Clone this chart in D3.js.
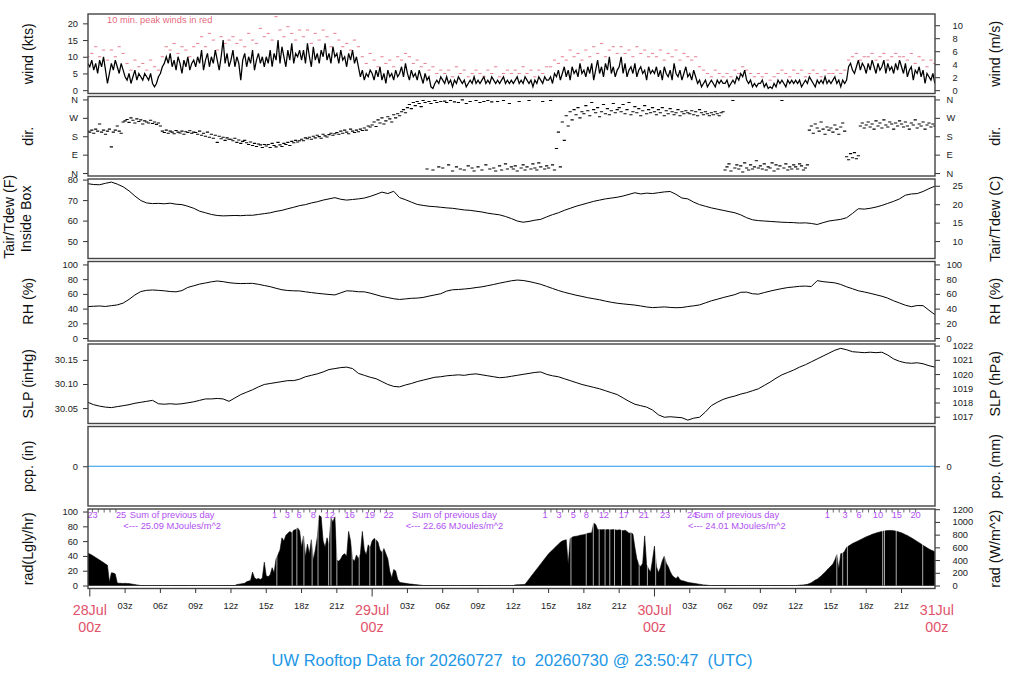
<!DOCTYPE html>
<html>
<head>
<meta charset="utf-8">
<script src="https://cdn.jsdelivr.net/npm/d3@7"></script>
<style>
  body { margin: 0; background: #fff; }
  text { font-family: "Liberation Sans", Arial, Helvetica, sans-serif; }
</style>
</head>
<body>
<svg id="chart" width="1024" height="700"></svg>
<script>
// ---- data ----
// 10-minute samples starting 27Jul 23:50z (433 values)
var windKts = [8,
  7,9,6,8,5,9,7,10,6,2,5,8,6,9,7,5,8,6,
  4,3,5,2,4,6,3,5,4,3,5,4,3,5,2,1,2,4,
  5,7,8,10,8,11,7,9,6,10,8,5,9,7,10,6,8,9,
  7,10,8,12,6,9,11,7,10,8,12,9,6,10,15,8,11,7,
  9,12,7,10,8,3,9,11,7,10,8,12,6,9,11,8,10,7,
  10,8,12,7,11,9,15,8,13,10,7,12,9,14,8,11,10,12,
  9,12,8,14,10,7,13,9,11,8,12,10,14,9,11,8,13,10,
  11,8,12,9,10,7,11,9,12,8,10,7,4,6,3,5,4,6,
  5,3,6,4,7,3,5,2,6,4,5,3,6,4,5,7,4,8,
  5,3,6,4,5,3,6,4,2,5,3,4,1,0.5,2,3,2,4,
  3,2,4,2,3,1,3,2,4,3,2,3,1,2,3,2,4,2,
  3,2,3,4,2,3,2,4,3,2,3,2,3,4,2,3,2,3,
  2,3,4,2,3,2,4,3,2,3,1,3,2,4,3,2,4,3,
  3,4,2,5,4,6,3,5,7,4,6,3,7,5,6,4,8,5,
  6,4,7,5,8,3,6,9,5,7,4,8,6,10,5,7,4,6,
  7,10,5,8,4,6,7,5,8,4,6,7,5,6,3,7,5,6,
  5,7,4,6,3,7,5,4,6,3,8,5,4,6,3,5,7,4,
  5,3,6,4,2,3,1,2,3,1,2,3,2,1,3,2,3,2,
  2,3,1,2,3,2,4,3,5,4,6,3,2,3,1,2,1,2,
  2,3,1,2,0.5,1,0.5,2,1,3,2,3,2,1,3,2,3,2,
  3,2,3,1,2,3,2,4,3,2,1,3,2,3,2,4,2,3,
  2,3,4,2,3,1,3,2,3,7,8,6,5,7,9,6,8,7,
  5,8,6,9,7,5,8,6,7,9,5,8,6,7,5,8,6,9,
  7,5,8,4,6,7,3,6,5,7,4,6,2,5,4,3,5,2]

// 20-minute peak winds (217 values)
var peakKts = [10,
  11,13,10,12,9,12,10,13,11,
  8,6,9,7,8,6,9,7,6,
  10,13,12,14,11,13,12,10,13,
  14,16,13,17,15,12,16,14,15,
  16,14,15,13,17,15,14,18.5,16,
  17,15,22,18,16,19,17,15,18,
  16,18,14,17,15,18,16,13,17,
  15,13,14,12,15,13,10,8,11,
  9,7,10,8,9,7,10,9,11,
  10,8,9,7,8,6,7,5,6,
  5,6,4,7,5,6,4,5,6,
  5,4,6,5,7,4,5,6,5,
  6,5,7,5,6,4,6,5,7,
  7,9,8,10,9,12,10,11,9,
  12,10,13,11,14,10,12,13,11,
  13,11,12,10,13,11,12,10,11,
  10,12,9,11,10,12,9,11,10,
  9,10,7,6,5,4,6,5,4,
  5,4,6,5,7,6,5,4,5,
  4,5,3,4,5,6,5,4,6,
  5,6,4,5,6,5,4,6,5,
  5,6,5,6,9,10,11,9,10,
  10,11,9,10,11,9,10,11,10,
  10,9,11,8,10,9,7,9,8]

// wind direction, degrees, 10-minute samples (433 values)
var dirDeg = [205,
  200,210,195,215,205,240,200,210,190,205,215,128,200,210,230,205,195,250,
  255,262,248,270,258,245,265,252,260,240,255,250,245,258,242,250,238,245,
  230,205,198,210,195,205,200,192,208,200,196,205,190,202,198,207,195,200,
  198,190,205,185,195,180,200,175,190,170,185,150,180,168,175,160,172,165,
  165,158,170,150,162,145,155,160,148,140,152,135,145,130,142,138,125,140,
  132,140,125,145,135,128,150,138,130,145,140,150,135,155,148,160,152,158,
  165,158,172,168,175,165,180,172,185,178,170,190,182,176,188,195,185,192,
  198,190,205,195,210,200,192,215,205,198,210,202,215,208,220,210,230,225,
  235,250,228,260,245,270,240,255,275,265,250,285,270,290,280,300,310,295,
  320,335,315,345,330,350,340,325,355,345,20,350,340,15,355,345,30,350,
  25,352,345,40,355,10,348,30,345,20,358,15,340,35,350,25,10,355,
  30,345,15,350,40,355,20,348,25,10,350,35,15,355,45,20,340,30,
  20,35,10,350,25,40,15,30,355,20,45,25,15,50,30,350,20,35,
  25,355,40,15,120,200,30,250,160,280,230,300,260,310,285,320,270,300,
  290,330,305,280,345,310,295,320,275,300,335,290,315,285,305,340,295,310,
  320,300,335,290,310,345,285,300,325,295,315,280,305,330,290,310,295,320,
  300,285,310,295,320,280,305,290,315,300,285,295,310,280,300,290,305,295,
  290,305,285,300,280,310,295,285,300,290,280,295,285,300,290,280,295,300,
  15,30,45,10,355,25,40,20,35,5,50,25,15,40,20,30,60,25,
  35,20,45,15,30,25,50,10,40,20,35,355,25,45,15,30,20,40,
  30,20,45,35,15,25,40,210,230,195,240,220,205,250,215,190,225,210,
  220,200,235,215,190,225,245,205,80,65,95,75,100,70,85,230,245,220,
  235,250,225,240,215,255,230,245,220,260,235,225,250,240,215,245,230,255,
  240,225,250,230,215,245,235,260,220,240,230,250,215,235,245,225,240,230]

// 30-minute samples starting 27Jul 23:50z (145 values)
var tempF = [78.0,77.6,77.5,78.2,78.8,77.8,76.5,74.5,72.0,69.8,
  68.6,68.3,68.4,68.2,68.5,68.0,67.8,67.0,66.0,64.6,
  63.8,63.0,62.5,62.3,62.4,62.5,62.4,62.6,62.6,63.0,
  63.4,63.8,64.5,65.0,65.8,66.5,67.3,67.8,68.6,69.2,
  70.0,70.6,71.2,70.4,70.0,70.3,70.6,71.0,71.8,72.8,
  73.9,73.2,74.3,71.2,70.2,69.0,67.9,67.4,67.0,66.8,
  66.5,66.2,66.0,65.6,65.2,65.0,64.6,64.2,63.6,63.2,
  62.8,62.0,61.0,59.8,59.2,59.6,60.2,60.6,61.8,62.9,
  63.8,65.0,66.0,67.0,67.8,68.6,69.4,70.0,70.6,71.0,
  71.4,72.0,72.8,73.6,73.0,73.4,73.2,73.6,74.0,74.2,
  72.8,71.0,70.6,69.0,67.8,67.0,66.2,65.6,65.0,64.4,
  63.8,62.8,61.4,60.4,60.0,59.8,59.6,59.4,59.2,59.1,
  59.0,58.8,58.9,58.6,58.1,59.0,59.8,60.2,60.6,61.4,
  63.5,65.8,65.6,66.0,66.6,67.4,68.4,69.4,70.6,72.4,
  73.0,73.2,74.2,75.6,76.8]

var rhPct = [42.8,43.2,43.6,42.9,44.0,45.0,47.5,52.5,58.5,63.2,
  64.8,65.3,64.8,64.2,63.2,62.8,64.5,68.8,71.0,73.3,
  74.8,76.4,77.5,76.6,75.2,74.4,74.0,74.2,74.3,73.0,
  71.4,69.8,67.6,65.6,64.6,64.2,64.0,62.8,61.8,60.8,
  60.0,59.2,58.6,61.4,64.2,63.8,62.9,62.8,61.0,58.8,
  56.5,55.0,53.4,52.4,53.2,54.0,54.3,55.2,57.0,58.6,
  60.2,63.8,65.6,66.0,66.6,67.4,68.6,69.6,71.2,72.8,
  74.6,76.2,77.8,78.8,78.2,76.8,75.0,73.0,70.2,67.4,
  64.6,62.2,60.2,58.2,56.6,54.8,53.4,52.0,50.2,48.6,
  47.3,46.4,45.6,44.8,43.6,42.2,41.4,41.8,42.3,41.6,
  41.2,41.5,42.8,43.8,45.0,47.8,50.6,52.7,55.0,57.0,
  59.0,62.2,62.4,60.2,59.6,61.8,63.8,65.6,67.2,68.6,
  69.4,70.3,70.6,70.0,78.0,76.6,75.8,75.0,72.8,69.6,
  67.0,64.2,62.6,60.8,58.8,56.8,54.2,50.6,47.6,44.6,
  42.6,44.2,44.0,37.8,31.8]

var slpInHg = [30.062,30.057,30.054,30.052,30.051,30.053,30.055,30.057,30.060,30.062,
  30.064,30.066,30.059,30.058,30.059,30.058,30.059,30.061,30.063,30.066,
  30.069,30.069,30.070,30.069,30.064,30.071,30.078,30.083,30.088,30.094,
  30.099,30.101,30.103,30.105,30.107,30.107,30.110,30.115,30.118,30.121,
  30.125,30.130,30.132,30.134,30.135,30.132,30.122,30.118,30.114,30.111,
  30.105,30.099,30.095,30.094,30.098,30.101,30.105,30.108,30.111,30.114,
  30.115,30.117,30.118,30.119,30.118,30.120,30.121,30.119,30.117,30.115,
  30.113,30.114,30.116,30.118,30.120,30.122,30.124,30.125,30.120,30.117,
  30.115,30.111,30.107,30.103,30.099,30.096,30.093,30.090,30.086,30.082,
  30.078,30.071,30.064,30.058,30.055,30.052,30.046,30.036,30.031,30.032,
  30.031,30.030,30.025,30.029,30.031,30.042,30.055,30.062,30.068,30.072,
  30.075,30.079,30.082,30.086,30.090,30.097,30.104,30.112,30.119,30.124,
  30.129,30.135,30.140,30.146,30.152,30.158,30.164,30.170,30.174,30.171,
  30.167,30.166,30.165,30.166,30.165,30.166,30.160,30.152,30.147,30.144,
  30.143,30.144,30.142,30.138,30.135]

var pcpIn = [0, 0]

// solar radiation W/m^2, 10-minute samples (433 values)
var radWm2 = [512,495,480,460,440,420,400,380,360,340,320,50,200,195,180,40,35,35,30,35,30,30,25,20,15,10,5,
  0,0,0,0,0,0,0,0,0,0,0,0,0,0,0,0,0,0,0,0,0,0,0,0,0,0,0,0,0,0,0,0,0,0,0,0,0,0,0,0,0,0,0,0,0,0,0,0,0,
  15,20,25,30,35,60,70,80,210,120,
  100,110,95,120,366,150,140,170,280,200,
  420,486,560,750,700,790,820,850,830,870,
  880,905,860,600,780,450,650,500,720,400,
  560,750,1100,1080,700,600,750,640,1060,1000,
  1080,400,380,420,480,500,460,850,700,420,
  380,480,420,500,850,560,480,640,600,700,
  740,720,680,560,520,580,500,420,225,120,
  250,230,100,50,45,40,35,30,25,22,
  18,15,12,8,5,
  0,0,0,0,0,0,0,0,0,0,0,0,0,0,0,0,0,0,0,0,0,0,0,0,0,0,0,0,0,0,0,0,0,0,0,0,0,0,0,0,0,0,0,0,0,0,0,
  10,12,12,14,15,20,60,100,140,180,
  220,260,300,340,380,420,460,500,530,560,
  590,620,650,680,700,710,720,330,740,760,
  770,775,780,790,795,800,810,820,825,830,
  980,960,880,880,875,880,875,880,878,875,
  880,875,870,875,870,860,870,850,820,830,
  810,600,420,330,300,350,780,330,260,210,
  400,620,300,200,280,390,460,350,300,220,
  160,130,110,140,90,75,70,60,50,45,
  40,35,30,25,20,15,10,8,5,
  0,0,0,0,0,0,0,0,0,0,0,0,0,0,0,0,0,0,0,0,0,0,0,0,0,0,0,0,0,0,0,0,0,0,0,0,0,0,0,0,0,0,0,0,0,
  2,5,8,10,14,18,30,45,65,85,
  100,125,150,180,210,245,275,305,340,400,
  486,260,500,510,540,600,620,640,660,675,
  690,705,720,735,750,765,778,790,805,815,
  825,835,843,850,856,860,864,866,866,862,
  856,848,838,828,815,800,785,768,750,732,
  712,692,672,652,632,612,592,574,558,545,
  530]

// hours (from 28Jul 00z) where the radiation trace has white gaps
var radGapHr = [15.9,17.2,17.6,18.2,18.9,19.4,20.3,20.5,21.0,22.3,22.9,23.8,24.3,24.9,
  40.9,42.2,42.8,43.3,43.8,44.2,44.6,45.2,46.0,46.7,47.4,48.1,48.9,
  63.5,64.0,64.4,67.4,67.55,68.55,70.8]

// running daily radiation sums (MJ/m^2) printed along the top of the rad panel
var sumLabelHr = [0.22,2.66, 15.7,16.8,17.8,19.0,20.4,22.1,23.8,25.4,
  38.7,39.9,41.1,42.2,43.7,45.4,47.1,48.9,51.2, 62.7,64.2,65.4,67.0,68.6,70.2]
var sumLabelText = ["23","25","1","3","6","8","12","16","19","22",
  "1","3","5","8","12","17","21","23","24","1","3","6","10","15","20"]
var daySumHr = [7, 31, 55]
var daySumMJ = ["25.09", "22.66", "24.01"]

// ---- chart ----
var svg = d3.select("#chart")
var MIN = 60000
var gridStart = Date.UTC(2026, 6, 27, 23, 50)
var day0 = Date.UTC(2026, 6, 28)
var x = d3.scaleUtc()
  .domain([Date.UTC(2026, 6, 27, 23, 50, 47), Date.UTC(2026, 6, 30, 23, 50, 47)])
  .range([88, 935])
var left = 88, right = 935
var panelH = 79.5
var tickFont = 9.3, titleFont = 14.3
var red = "#DF536B", blue = "#2297E6", purple = "#b050f2"

function tStep(step) {
  return function (d, i) { return x(gridStart + i * step * MIN) }
}

function makePanel(k, domain) {
  var top = 14 + k * 82.5
  var bottom = top + panelH
  var y = d3.scaleLinear().domain(domain).range([bottom, top])
  var g = svg.append("g")
  g.append("clipPath").attr("id", "clip" + k)
    .append("rect").attr("x", left).attr("y", top).attr("width", right - left).attr("height", panelH)
  var plot = g.append("g").attr("clip-path", "url(#clip" + k + ")")
  return { top: top, bottom: bottom, y: y, g: g, plot: plot }
}

function frame(p) {
  p.g.append("rect")
    .attr("x", left).attr("y", p.top).attr("width", right - left).attr("height", panelH)
    .attr("fill", "none").attr("stroke", "#444").attr("stroke-width", 1.4)
}

function styleAxis(a) {
  a.select(".domain").remove()
  a.attr("font-size", tickFont).attr("font-family", null).attr("color", "#333")
  a.selectAll("text").attr("fill", "#222")
}

function leftAxis(p, values, labels) {
  p.g.append("g").attr("transform", "translate(" + left + ",0)")
    .call(d3.axisLeft(p.y).tickValues(values).tickSize(5).tickPadding(5)
      .tickFormat(function (d, i) { return labels ? labels[i] : d }))
    .call(styleAxis)
}

function rightAxis(p, values, labels, pad) {
  p.g.append("g").attr("transform", "translate(" + right + ",0)")
    .call(d3.axisRight(p.y).tickValues(values).tickSize(5).tickPadding(pad)
      .tickFormat(function (d, i) { return labels[i] }))
    .call(styleAxis)
}

function yTitle(xc, yc, txt) {
  svg.append("text")
    .attr("transform", "translate(" + xc + "," + yc + ") rotate(-90)")
    .attr("text-anchor", "middle").attr("dy", "0.35em")
    .attr("font-size", titleFont).attr("fill", "#111")
    .text(txt)
}

function linePath(p, data, step, w) {
  p.plot.append("path").datum(data)
    .attr("d", d3.line().x(tStep(step)).y(function (d) { return p.y(d) }))
    .attr("fill", "none").attr("stroke", "#000").attr("stroke-width", w || 1)
}

// wind
var pw = makePanel(0, [-1, 22.8])
pw.plot.selectAll("line.pk").data(peakKts).join("line").attr("class", "pk")
  .attr("x1", function (d, i) { return tStep(20)(d, i) - 1.6 })
  .attr("x2", function (d, i) { return tStep(20)(d, i) + 1.6 })
  .attr("y1", function (d) { return pw.y(d) }).attr("y2", function (d) { return pw.y(d) })
  .attr("stroke", red).attr("stroke-opacity", 0.75).attr("stroke-width", 1)
linePath(pw, windKts, 10, 1.25)
pw.g.append("text").attr("x", 107).attr("y", 23).attr("font-size", tickFont)
  .attr("fill", red).attr("fill-opacity", 0.9).text("10 min. peak winds in red")
var msTicks = [0, 2, 4, 6, 8, 10]
leftAxis(pw, [0, 5, 10, 15, 20])
rightAxis(pw, msTicks.map(function (m) { return m * 1.94384 }), msTicks, 12.5)
frame(pw)

// direction
var pd = makePanel(1, [-14.4, 374.4])
pd.plot.selectAll("line.dir").data(dirDeg).join("line").attr("class", "dir")
  .attr("x1", function (d, i) { return tStep(10)(d, i) - 1.6 })
  .attr("x2", function (d, i) { return tStep(10)(d, i) + 1.6 })
  .attr("y1", function (d) { return pd.y(d) }).attr("y2", function (d) { return pd.y(d) })
  .attr("stroke", "#000").attr("stroke-width", 1.1)
var compass = ["N", "E", "S", "W", "N"]
leftAxis(pd, [0, 90, 180, 270, 360], compass)
rightAxis(pd, [0, 90, 180, 270, 360], compass, 6.5)
frame(pd)

// temperature
var pt = makePanel(2, [41.5, 80.3])
linePath(pt, tempF, 30)
var cTicks = [10, 15, 20, 25]
leftAxis(pt, [50, 60, 70, 80])
rightAxis(pt, cTicks.map(function (c) { return c * 1.8 + 32 }), cTicks, 12.5)
frame(pt)

// relative humidity
var pr = makePanel(3, [-4, 104])
linePath(pr, rhPct, 30)
var rhTicks = [0, 20, 40, 60, 80, 100]
leftAxis(pr, rhTicks)
rightAxis(pr, rhTicks, rhTicks, 6.5)
frame(pr)

// sea level pressure
var ps = makePanel(4, [30.018, 30.183])
linePath(ps, slpInHg, 30)
var hpaTicks = [1017, 1018, 1019, 1020, 1021, 1022]
leftAxis(ps, [30.05, 30.10, 30.15], ["30.05", "30.10", "30.15"])
rightAxis(ps, hpaTicks.map(function (h) { return h * 0.02953 }), hpaTicks, 12.5)
frame(ps)

// precipitation
var pp = makePanel(5, [-1, 1])
pp.plot.append("line").attr("x1", left).attr("x2", right)
  .attr("y1", pp.y(pcpIn[0])).attr("y2", pp.y(pcpIn[1]))
  .attr("stroke", blue).attr("stroke-width", 1)
leftAxis(pp, [0])
rightAxis(pp, [0], [0], 6.5)
frame(pp)

// radiation
var pa = makePanel(6, [-47, 1203])
pa.plot.append("path").datum(radWm2)
  .attr("d", d3.area().x(tStep(10)).y0(pa.y(0)).y1(function (d) { return pa.y(d) }))
  .attr("fill", "#000").attr("stroke", "#000").attr("stroke-width", 0.6)
pa.plot.selectAll("line.gap").data(radGapHr).join("line").attr("class", "gap")
  .attr("x1", function (d) { return x(day0 + d * 3600000) })
  .attr("x2", function (d) { return x(day0 + d * 3600000) })
  .attr("y1", pa.y(0)).attr("y2", pa.y(1180))
  .attr("stroke", "#fff").attr("stroke-width", 0.8).attr("stroke-opacity", 0.85)

// small tick marks along the top, every half hour across each run of labels
var runs = []
sumLabelHr.forEach(function (h, i) {
  if (i === 0 || h - sumLabelHr[i - 1] > 5) runs.push([h, h])
  else runs[runs.length - 1][1] = h
})
var topTicks = []
runs.forEach(function (r) { topTicks = topTicks.concat(d3.range(r[0], r[1] + 0.01, 0.5)) })
pa.g.selectAll("line.tt").data(topTicks).join("line").attr("class", "tt")
  .attr("x1", function (d) { return x(day0 + d * 3600000) })
  .attr("x2", function (d) { return x(day0 + d * 3600000) })
  .attr("y1", pa.top).attr("y2", pa.top + 3.5)
  .attr("stroke", "#444").attr("stroke-width", 0.8)
pa.g.selectAll("text.sum").data(sumLabelHr).join("text").attr("class", "sum")
  .attr("x", function (d) { return x(day0 + d * 3600000) }).attr("y", 518)
  .attr("text-anchor", "middle").attr("font-size", tickFont).attr("fill", purple)
  .text(function (d, i) { return sumLabelText[i] })
daySumHr.forEach(function (h, i) {
  var cx = x(day0 + h * 3600000)
  pa.g.append("text").attr("x", cx).attr("y", 518).attr("text-anchor", "middle")
    .attr("font-size", tickFont).attr("fill", purple).text("Sum of previous day")
  pa.g.append("text").attr("x", cx).attr("y", 529).attr("text-anchor", "middle")
    .attr("font-size", tickFont).attr("fill", purple)
    .text("<--- " + daySumMJ[i] + " MJoules/m^2")
})
var lyTicks = [0, 20, 40, 60, 80, 100]
var wTicks = [0, 200, 400, 600, 800, 1000, 1200]
leftAxis(pa, lyTicks.map(function (l) { return l * 11.63 }), lyTicks)
rightAxis(pa, wTicks, wTicks, 12.5)
frame(pa)

// time axis
var xTicks = d3.utcHour.every(3).range(new Date(day0), new Date(Date.UTC(2026, 6, 31, 1)))
var xa = svg.append("g")
xTicks.forEach(function (t) {
  var px = x(t)
  var isDay = t.getUTCHours() === 0
  if (px <= right + 1) {
    xa.append("line").attr("x1", px).attr("x2", px)
      .attr("y1", pa.bottom).attr("y2", pa.bottom + (isDay ? 8 : 4.5))
      .attr("stroke", "#333").attr("stroke-width", 1)
  }
  if (isDay) {
    xa.append("text").attr("x", px).attr("y", 615).attr("text-anchor", "middle")
      .attr("font-size", titleFont).attr("fill", red).text(d3.utcFormat("%d%b")(t))
    xa.append("text").attr("x", px).attr("y", 632).attr("text-anchor", "middle")
      .attr("font-size", titleFont).attr("fill", red).text("00z")
  } else {
    xa.append("text").attr("x", px).attr("y", 609).attr("text-anchor", "middle")
      .attr("font-size", tickFont).attr("fill", "#222").text(d3.utcFormat("%Hz")(t))
  }
})

// axis titles
var mid = function (k) { return 14 + k * 82.5 + panelH / 2 }
yTitle(28, mid(0), "wind (kts)")
yTitle(995, mid(0), "wind (m/s)")
yTitle(28, mid(1), "dir.")
yTitle(995, mid(1), "dir.")
yTitle(9, mid(2) - 2, "Tair/Tdew (F)")
yTitle(26, mid(2), "Inside Box")
yTitle(995, mid(2), "Tair/Tdew (C)")
yTitle(28, mid(3), "RH (%)")
yTitle(995, mid(3), "RH (%)")
yTitle(28, mid(4), "SLP (inHg)")
yTitle(995, mid(4), "SLP (hPa)")
yTitle(28, mid(5), "pcp. (in)")
yTitle(995, mid(5), "pcp. (mm)")
yTitle(28, mid(6), "rad(Lgly/hr)")
yTitle(995, mid(6), "rad (W/m^2)")

svg.append("text").attr("x", 512).attr("y", 666).attr("text-anchor", "middle")
  .attr("font-size", 16.5).attr("fill", blue).style("white-space", "pre")
  .text("UW Rooftop Data for 20260727  to  20260730 @ 23:50:47  (UTC)")
</script>
</body>
</html>
